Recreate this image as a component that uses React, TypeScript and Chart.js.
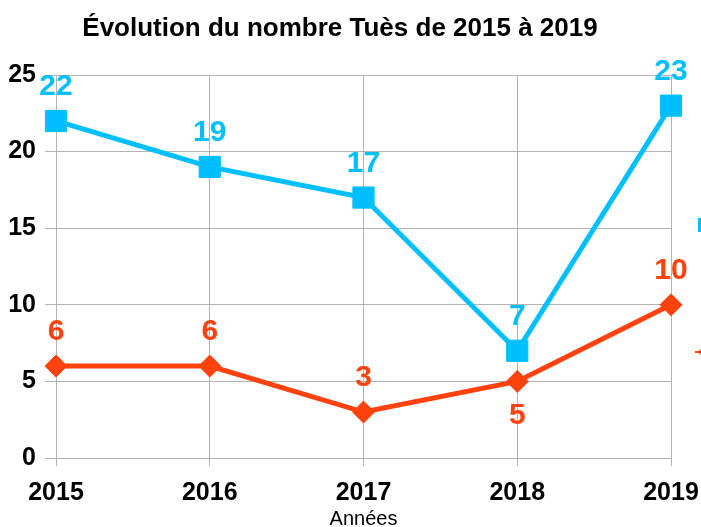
import React, { useEffect, useRef } from 'react';
import { Chart, registerables } from 'chart.js';

Chart.register(...registerables);

const years = ['2015', '2016', '2017', '2018', '2019'];
const blueValues = [22, 19, 17, 7, 23];
const orangeValues = [6, 6, 3, 5, 10];
const blueLabelSides = ['top', 'top', 'top', 'top', 'top'];
const orangeLabelSides = ['top', 'top', 'top', 'bottom', 'top'];
const seriesNames = ['Série 1', 'Série 2'];
const chartTitle = 'Évolution du nombre Tuès de 2015 à 2019';
const xAxisTitle = 'Années';

const BLUE = '#00bfff';
const ORANGE = '#ff420e';
const GRID = '#b3b3b3';
const FONT = '"Liberation Sans", Arial, Helvetica, sans-serif';

const valueLabelPlugin = {
  id: 'valueLabels',
  afterDatasetsDraw(chart: any) {
    const ctx = chart.ctx;
    chart.data.datasets.forEach((ds: any, i: number) => {
      const meta = chart.getDatasetMeta(i);
      meta.data.forEach((pt: any, j: number) => {
        const side = ds.labelSides[j];
        ctx.save();
        ctx.font = `bold 30px ${FONT}`;
        ctx.fillStyle = ds.borderColor;
        ctx.textAlign = 'center';
        ctx.textBaseline = 'middle';
        const dy = side === 'bottom' ? 34 : -34;
        ctx.fillText(String(ds.data[j]), pt.x, pt.y + dy);
        ctx.restore();
      });
    });
  },
};

const titlePlugin = {
  id: 'customTitle',
  afterDraw(chart: any) {
    const ctx = chart.ctx;
    ctx.save();
    ctx.font = `bold 26px ${FONT}`;
    ctx.fillStyle = '#000000';
    ctx.textAlign = 'center';
    ctx.textBaseline = 'middle';
    ctx.fillText(chartTitle, chart.width * 0.485, 29);
    ctx.restore();
  },
};

// Legend sits mostly beyond the right edge of the picture; only a sliver shows.
const legendStubPlugin = {
  id: 'legendStub',
  afterDraw(chart: any) {
    const ctx = chart.ctx;
    const cx = chart.width + 4;
    const a = chart.chartArea;
    const ys = [a.top + 150, a.top + 277];
    ctx.save();
    ctx.fillStyle = chart.data.datasets[0].borderColor;
    ctx.fillRect(cx - 7, ys[0] - 7, 14, 14);
    ctx.fillStyle = chart.data.datasets[1].borderColor;
    ctx.beginPath();
    ctx.moveTo(cx - 7, ys[1]);
    ctx.lineTo(cx, ys[1] - 7);
    ctx.lineTo(cx + 7, ys[1]);
    ctx.lineTo(cx, ys[1] + 7);
    ctx.closePath();
    ctx.fill();
    ctx.fillRect(cx - 10, ys[1] - 1, 8, 2);
    ctx.restore();
  },
};

export default function App() {
  const ref = useRef<HTMLCanvasElement | null>(null);

  useEffect(() => {
    document.body.style.margin = '0';
    const canvas = ref.current;
    if (!canvas) return;
    const chart = new Chart(canvas, {
      type: 'line',
      data: {
        labels: years,
        datasets: [
          {
            label: seriesNames[0],
            data: blueValues,
            borderColor: BLUE,
            backgroundColor: BLUE,
            borderWidth: 5,
            pointStyle: 'rect',
            pointRadius: 15,
            pointBorderWidth: 1,
            pointBackgroundColor: BLUE,
            pointBorderColor: BLUE,
            tension: 0,
            labelSides: blueLabelSides,
          } as any,
          {
            label: seriesNames[1],
            data: orangeValues,
            borderColor: ORANGE,
            backgroundColor: ORANGE,
            borderWidth: 5,
            pointStyle: 'rectRot',
            pointRadius: 11,
            pointBorderWidth: 1,
            pointBackgroundColor: ORANGE,
            pointBorderColor: ORANGE,
            tension: 0,
            labelSides: orangeLabelSides,
          } as any,
        ],
      },
      options: {
        responsive: false,
        animation: false,
        layout: { padding: { top: 75, right: 30, bottom: 0, left: 0 } },
        plugins: {
          legend: { display: false },
          title: { display: false },
          tooltip: { enabled: false },
        },
        scales: {
          x: {
            type: 'category',
            offset: false,
            grid: { color: GRID, tickLength: 8, offset: false },
            border: { color: GRID },
            ticks: {
              color: '#000000',
              font: { family: FONT, size: 25, weight: 'bold' },
              padding: 12,
              maxRotation: 0,
            },
            title: {
              display: true,
              text: xAxisTitle,
              color: '#000000',
              font: { family: FONT, size: 20 },
              padding: { top: 0, bottom: -4 },
            },
            afterFit(scale: any) {
              scale.height = 69;
              scale.paddingRight = 0;
            },
          },
          y: {
            min: 0,
            max: 25,
            grid: { color: GRID, tickLength: 11 },
            border: { color: GRID },
            ticks: {
              stepSize: 5,
              color: '#000000',
              font: { family: FONT, size: 25, weight: 'bold' },
              padding: 9,
            },
            afterFit(scale: any) {
              scale.width = 56;
            },
          },
        },
      },
      plugins: [valueLabelPlugin, titlePlugin, legendStubPlugin],
    });
    return () => chart.destroy();
  }, []);

  return <canvas ref={ref} width={701} height={527} style={{ display: 'block' }} />;
}
